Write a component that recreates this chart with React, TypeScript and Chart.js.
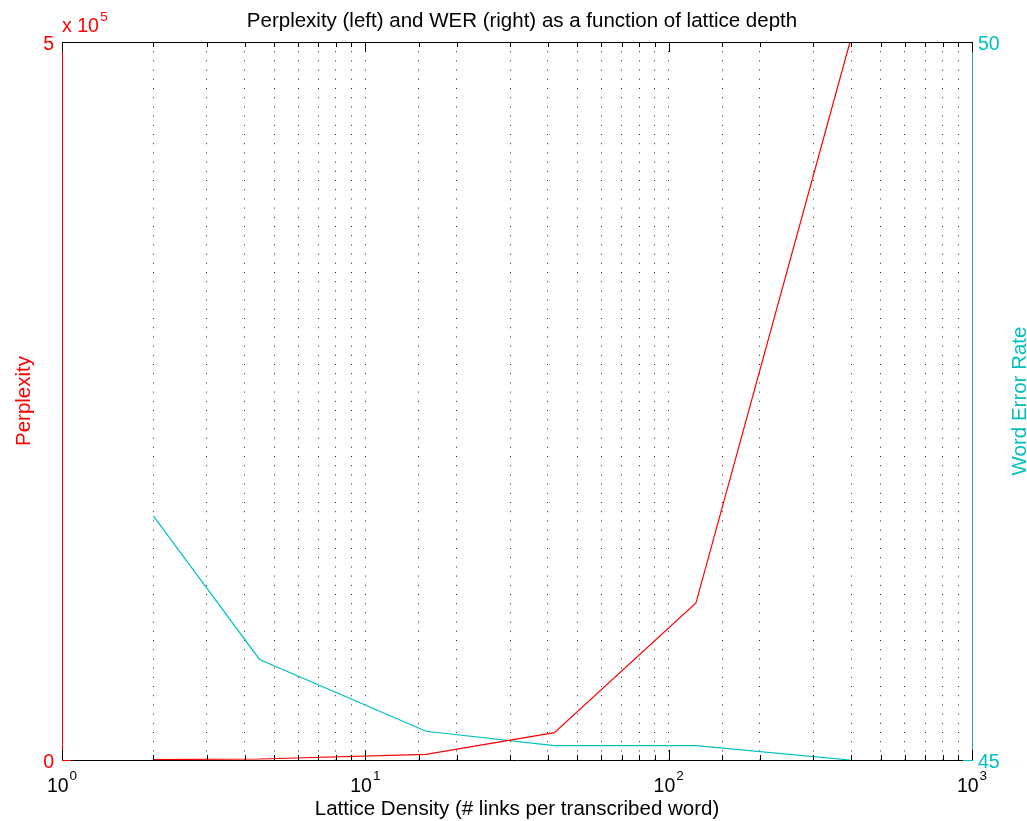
import React, { useEffect, useRef } from "react";
import { Chart, registerables } from "chart.js";

Chart.register(...registerables);

// ---- data ----
const densities = [2, 4.48, 15.85, 42, 123, 396];
const perplexity = [300, 700, 3970, 19000, 109300, 500000];
const wer = [46.7, 45.7, 45.2, 45.1, 45.1, 45.0];

const xTickExponents = [0, 1, 2, 3];
const leftTicks = [0, 500000];
const leftTickLabels = ["0", "5"];
const leftExponentLabel = ["x 10", "5"];
const rightTicks = [45, 50];
const rightTickLabels = ["45", "50"];

const titleText = "Perplexity (left) and WER (right) as a function of lattice depth";
const xTitle = "Lattice Density (# links per transcribed word)";
const yLeftTitle = "Perplexity";
const yRightTitle = "Word Error Rate";

const RED = "#ff0000";
const CYAN = "#00bfbf";
const FONT = "'Liberation Sans', Arial, Helvetica, sans-serif";

const decorPlugin = {
  id: "matlabDecor",
  afterDraw(chart: any) {
    const ctx = chart.ctx as CanvasRenderingContext2D;
    const { left, right, top, bottom } = chart.chartArea;
    const xs = chart.scales.x;
    const yL = chart.scales.yL;
    const yR = chart.scales.yR;
    ctx.save();

    // inward x ticks (bottom and top)
    ctx.strokeStyle = "#000";
    ctx.lineWidth = 1;
    ctx.beginPath();
    xs.ticks.forEach((t: any) => {
      const lg = Math.log10(t.value);
      const major = Math.abs(lg - Math.round(lg)) < 1e-9;
      const len = major ? 10 : 5;
      const px = Math.round(xs.getPixelForValue(t.value)) + 0.5;
      ctx.moveTo(px, bottom);
      ctx.lineTo(px, bottom - len);
      ctx.moveTo(px, top);
      ctx.lineTo(px, top + len);
    });
    ctx.stroke();

    // left ticks (red)
    ctx.strokeStyle = RED;
    ctx.beginPath();
    leftTicks.forEach((v) => {
      const py = Math.round(yL.getPixelForValue(v)) + 0.5;
      ctx.moveTo(left, py);
      ctx.lineTo(left + 9, py);
    });
    ctx.stroke();

    // right ticks (cyan)
    ctx.strokeStyle = CYAN;
    ctx.beginPath();
    rightTicks.forEach((v) => {
      const py = Math.round(yR.getPixelForValue(v)) + 0.5;
      ctx.moveTo(right - 9, py);
      ctx.lineTo(right, py);
    });
    ctx.stroke();

    // top border
    ctx.strokeStyle = "#000";
    ctx.beginPath();
    ctx.moveTo(left, Math.round(top) + 0.5);
    ctx.lineTo(right, Math.round(top) + 0.5);
    ctx.stroke();

    // x tick labels with superscripts
    ctx.fillStyle = "#000";
    ctx.textBaseline = "alphabetic";
    xTickExponents.forEach((e) => {
      const px = xs.getPixelForValue(Math.pow(10, e));
      ctx.font = `19.5px ${FONT}`;
      const baseW = ctx.measureText("10").width;
      ctx.font = `13.5px ${FONT}`;
      const expW = ctx.measureText(String(e)).width;
      const total = baseW + 1 + expW;
      const x0 = px - total / 2;
      ctx.font = `19.5px ${FONT}`;
      ctx.textAlign = "left";
      ctx.fillText("10", x0, bottom + 32);
      ctx.font = `13.5px ${FONT}`;
      ctx.fillText(String(e), x0 + baseW + 1, bottom + 20);
    });

    // left tick labels
    ctx.fillStyle = RED;
    ctx.font = `19.5px ${FONT}`;
    ctx.textAlign = "right";
    leftTicks.forEach((v, i) => {
      const py = yL.getPixelForValue(v);
      ctx.fillText(leftTickLabels[i], left - 8, py + 7.5);
    });
    // exponent label
    ctx.textAlign = "left";
    ctx.font = `19.5px ${FONT}`;
    const w10 = ctx.measureText(leftExponentLabel[0]).width;
    ctx.fillText(leftExponentLabel[0], left, top - 10);
    ctx.font = `13.5px ${FONT}`;
    ctx.fillText(leftExponentLabel[1], left + w10 + 1.5, top - 21);

    // right tick labels
    ctx.fillStyle = CYAN;
    ctx.font = `19.5px ${FONT}`;
    ctx.textAlign = "left";
    rightTicks.forEach((v, i) => {
      const py = yR.getPixelForValue(v);
      ctx.fillText(rightTickLabels[i], right + 6, py + 8);
    });

    // title
    ctx.fillStyle = "#000";
    ctx.font = `20.5px ${FONT}`;
    ctx.textAlign = "center";
    ctx.fillText(titleText, (left + right) / 2 + 5, 26.5);

    // x axis title
    ctx.fillText(xTitle, (left + right) / 2, bottom + 55);

    // left y title
    const midY = (top + bottom) / 2;
    ctx.save();
    ctx.translate(30, midY);
    ctx.rotate(-Math.PI / 2);
    ctx.fillStyle = RED;
    ctx.textAlign = "center";
    ctx.fillText(yLeftTitle, 0, 0);
    ctx.restore();

    // right y title
    ctx.save();
    ctx.translate(1025.5, midY);
    ctx.rotate(-Math.PI / 2);
    ctx.fillStyle = CYAN;
    ctx.textAlign = "center";
    ctx.fillText(yRightTitle, 0, 0);
    ctx.restore();

    ctx.restore();
  },
};

export default function App() {
  const ref = useRef<HTMLCanvasElement | null>(null);

  useEffect(() => {
    document.body.style.margin = "0";
    const canvas = ref.current;
    if (!canvas) return;
    const chart = new Chart(canvas, {
      type: "line",
      data: {
        datasets: [
          {
            label: "Perplexity",
            data: densities.map((x, i) => ({ x, y: perplexity[i] })),
            yAxisID: "yL",
            borderColor: RED,
            backgroundColor: RED,
            borderWidth: 1.2,
            pointRadius: 0,
            tension: 0,
            fill: false,
          },
          {
            label: "WER",
            data: densities.map((x, i) => ({ x, y: wer[i] })),
            yAxisID: "yR",
            borderColor: CYAN,
            backgroundColor: CYAN,
            borderWidth: 1.2,
            pointRadius: 0,
            tension: 0,
            fill: false,
          },
        ],
      },
      options: {
        animation: false,
        responsive: false,
        devicePixelRatio: 1,
        layout: { padding: { top: 42, left: 0, right: 0, bottom: 0 } },
        plugins: {
          legend: { display: false },
          title: { display: false },
          tooltip: { enabled: false },
        },
        events: [],
        scales: {
          x: {
            type: "logarithmic",
            min: 1,
            max: 1000,
            position: "bottom",
            afterFit: (s: any) => {
              s.height = 61;
            },
            ticks: { display: false },
            grid: {
              display: true,
              drawTicks: false,
              color: "rgba(0,0,0,0.85)",
              lineWidth: 1,
            },
            border: { display: true, color: "#000", width: 1, dash: [1, 8.2], dashOffset: 0 },
          },
          yL: {
            type: "linear",
            position: "left",
            min: 0,
            max: 500000,
            afterFit: (s: any) => {
              s.width = 62;
            },
            ticks: { display: false },
            grid: { display: false, drawTicks: false },
            border: { display: true, color: RED, width: 1 },
          },
          yR: {
            type: "linear",
            position: "right",
            min: 45,
            max: 50,
            afterFit: (s: any) => {
              s.width = 55;
            },
            ticks: { display: false },
            grid: { display: false, drawTicks: false },
            border: { display: true, color: "#2a9f9f", width: 1 },
          },
        },
      },
      plugins: [decorPlugin],
    } as any);
    return () => chart.destroy();
  }, []);

  return (
    <div style={{ position: "absolute", left: 0, top: 0, width: 1027, height: 821, background: "#fff" }}>
      <canvas ref={ref} width={1027} height={821} style={{ display: "block" }} />
    </div>
  );
}
